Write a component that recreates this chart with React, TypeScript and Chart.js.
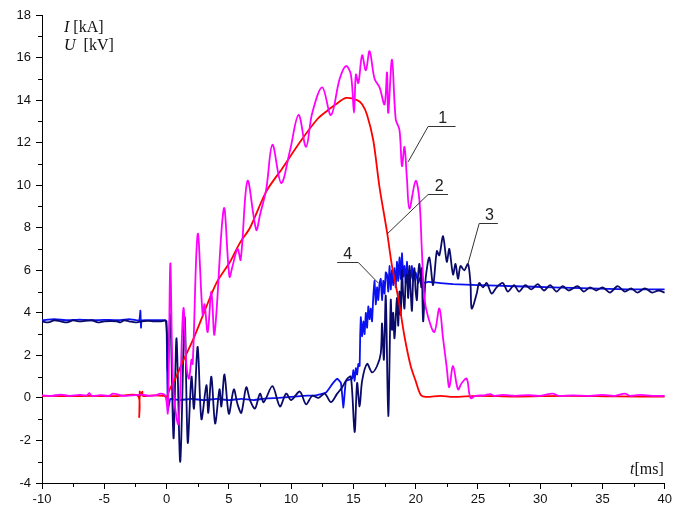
import React, { useEffect, useRef } from "react";
import { Chart, registerables } from "chart.js";

Chart.register(...registerables);

// ---- Data (t in ms) ----
// Curve 1: voltage (magenta)
const t1 = [-10, -9.2, -8.5, -7.8, -7, -6.4, -6.2, -6.0, -5.3, -4.6, -4.3, -3.5, -2.8, -2.0, -1.4, -0.8, -0.5, -0.1, 0.1, 0.3, 0.45, 0.6, 0.95, 1.35, 1.6, 1.8, 2.0, 2.1, 2.5, 2.9, 3.05, 3.3, 3.6, 3.85, 4.6, 5.05, 5.3, 5.7, 5.95, 6.5, 7.2, 7.5, 8.0, 8.5, 9.2, 9.9, 10.6, 11.2, 11.7, 12.5, 13.2, 13.9, 14.4, 14.8, 15.05, 15.2, 15.4, 15.7, 16.0, 16.3, 16.7, 17.1, 17.5, 17.7, 17.8, 18.1, 18.4, 18.7, 18.9, 19.1, 19.3, 19.5, 20.0, 20.3, 20.5, 20.7, 21.0, 21.5, 21.9, 22.2, 22.5, 22.7, 23.0, 23.4, 23.7, 24.1, 24.4, 24.8, 25.5, 26.0, 26.3, 27.0, 28.0, 29.0, 30.0, 31.0, 31.5, 32.5, 34.0, 35.0, 36.0, 36.8, 37.2, 38.0, 39.0, 40];
const u1 = [0.12, 0.1, 0.15, 0.1, 0.14, 0.12, 0.22, 0.1, 0.13, 0.1, 0.2, 0.1, 0.12, 0.15, 0.1, 0.13, 0.2, 0.1, -0.7, 6.3, 2.0, 0.0, -1.2, 4.2, 1.5, 0.9, 1.8, 1.6, 7.7, 3.9, 4.4, 3.1, 5.0, 3.0, 8.9, 5.7, 6.2, 7.0, 6.5, 10.2, 7.9, 8.6, 9.8, 11.9, 10.1, 11.6, 13.3, 11.8, 13.4, 14.6, 13.3, 15.0, 15.6, 15.2, 13.4, 15.2, 14.8, 16.1, 15.4, 16.3, 15.0, 14.6, 13.8, 15.3, 13.4, 15.9, 13.1, 12.6, 10.9, 11.8, 10.3, 8.9, 10.2, 9.3, 6.9, 4.7, 3.8, 3.1, 4.2, 2.8, 1.4, 0.5, 1.5, 0.4, 0.7, 0.9, 0.0, 0.1, 0.12, 0.18, 0.1, 0.14, 0.1, 0.13, 0.1, 0.2, 0.1, 0.12, 0.1, 0.14, 0.1, 0.2, 0.1, 0.14, 0.1, 0.1];

// Curve 2: current (red)
const t2 = [-10, -8, -6, -4, -2.3, -2.2, -2.15, -2.1, -1.95, -1.9, -1, -0.2, 0, 0.25, 0.7, 1.3, 2.1, 3.0, 4.0, 5.1, 5.9, 6.7, 8.0, 9.3, 10.8, 12.1, 12.9, 13.6, 14.4, 15.3, 15.7, 16.1, 16.6, 17.1, 17.7, 18.1, 18.6, 19.1, 19.6, 20.0, 20.4, 20.8, 22, 23, 25, 28, 32, 36, 40];
const i2 = [0.1, 0.08, 0.1, 0.08, 0.1, -0.9, 0.3, 0.1, 0.3, 0.1, 0.12, 0.1, 0.05, 0.4, 0.9, 1.7, 2.7, 4.0, 5.4, 6.4, 7.3, 8.0, 9.7, 10.8, 12.1, 13.1, 13.5, 13.8, 14.1, 14.0, 13.8, 13.3, 12.1, 9.9, 7.8, 6.2, 4.7, 2.9, 1.5, 0.8, 0.15, 0.05, 0.1, 0.05, 0.1, 0.06, 0.1, 0.07, 0.06];

// Curve 3: dark blue
const t3 = [-10, -9.5, -9, -8.5, -8, -7.5, -7, -6, -5.5, -5, -4, -3.7, -3.4, -3, -2.5, -2, -1.5, -1, -0.5, -0.05, 0.1, 0.3, 0.56, 0.8, 1.1, 1.45, 1.7, 2.0, 2.2, 2.5, 2.8, 3.2, 3.35, 3.6, 3.9, 4.25, 4.4, 4.65, 5.0, 5.4, 5.7, 6.0, 6.4, 6.7, 7.1, 7.5, 7.8, 8.5, 9.1, 9.6, 10.0, 10.7, 11.2, 11.7, 12.2, 12.7, 13.2, 13.7, 14.1, 14.5, 14.8, 15.1, 15.3, 15.5, 15.7, 16.1, 16.5, 16.9, 17.2, 17.3, 17.45, 17.6, 17.8, 18.0, 18.1, 18.2, 18.3, 18.5, 18.6, 18.7, 18.8, 18.9, 19.0, 19.1, 19.2, 19.3, 19.4, 19.5, 19.6, 19.7, 19.8, 19.9, 20.0, 20.1, 20.2, 20.3, 20.45, 20.5, 20.6, 20.8, 21.1, 21.4, 21.7, 21.9, 22.2, 22.5, 22.7, 23.0, 23.2, 23.4, 23.6, 23.9, 24.2, 24.4, 24.5, 24.9, 25.1, 25.4, 25.7, 26.1, 26.5, 27.0, 27.4, 27.9, 28.3, 28.8, 29.3, 29.8, 30.3, 30.8, 31.3, 31.8, 32.3, 33.0, 33.5, 34.0, 34.5, 35.0, 35.6, 36.2, 36.8, 37.3, 37.8, 38.4, 39.0, 39.5, 40];
const v3 = [3.6, 3.55, 3.65, 3.6, 3.55, 3.65, 3.6, 3.65, 3.55, 3.6, 3.6, 3.55, 3.65, 3.6, 3.55, 3.6, 3.62, 3.6, 3.6, 3.6, 1.3, 3.9, -1.9, 2.8, -3.0, 3.8, -2.1, 1.0, -0.5, 2.4, -1.0, 0.6, -0.7, 1.0, -1.2, 0.4, -0.4, 1.1, -0.75, 0.4, -0.3, -0.7, 0.5, -0.1, -0.5, 0.2, -0.2, 0.55, -0.4, 0.2, -0.1, 0.3, -0.3, 0.1, 0.0, 0.2, -0.2, 0.2, 0.5, 0.9, 1.0, -1.6, 0.7, -0.4, 0.8, 1.6, 1.2, 1.5, 2.1, 3.5, 1.8, 4.8, -0.85, 4.6, 3.2, 4.0, 2.8, 4.7, 3.4, 5.0, 3.9, 6.0, 4.8, 4.2, 5.5, 5.8, 4.7, 6.2, 5.0, 4.1, 5.6, 6.1, 5.0, 4.6, 5.8, 6.3, 5.2, 6.1, 3.6, 5.6, 6.6, 5.3, 6.9, 6.7, 7.6, 6.4, 7.0, 5.8, 6.3, 5.6, 6.2, 6.0, 6.3, 5.4, 4.2, 4.9, 5.4, 5.2, 5.4, 4.9, 5.2, 5.4, 5.0, 5.3, 5.0, 5.3, 5.1, 5.35, 5.05, 5.3, 5.0, 5.25, 5.05, 5.25, 5.0, 5.2, 5.05, 5.2, 4.95, 5.25, 5.0, 5.15, 4.95, 5.15, 4.95, 5.05, 4.95];

// Curve 4: blue
const t4 = [-10, -9, -8, -7, -6, -5, -4, -3, -2.2, -2.1, -2.05, -2.0, -1, -0.1, 0.0, 0.1, 0.3, 1, 2, 3, 4, 5, 6, 7, 8, 9, 10, 11, 12, 12.8, 13.3, 13.7, 14.0, 14.2, 14.4, 14.9, 15.0, 15.1, 15.2, 15.3, 15.4, 15.5, 15.55, 15.6, 15.7, 15.8, 15.9, 16.0, 16.1, 16.2, 16.3, 16.4, 16.5, 16.6, 16.7, 16.8, 16.9, 17.0, 17.1, 17.2, 17.3, 17.4, 17.5, 17.6, 17.7, 17.8, 17.9, 18.0, 18.1, 18.2, 18.3, 18.4, 18.5, 18.6, 18.7, 18.8, 18.9, 19.0, 19.1, 19.2, 19.3, 19.4, 19.5, 19.6, 19.7, 19.8, 20.0, 20.2, 20.4, 20.6, 21, 22, 23, 25, 28, 31, 34, 37, 40];
const v4 = [3.65, 3.7, 3.65, 3.68, 3.65, 3.67, 3.65, 3.7, 3.65, 4.1, 3.3, 3.65, 3.65, 3.65, 3.6, -0.6, -0.05, -0.1, -0.05, -0.1, -0.05, -0.1, -0.05, -0.1, -0.02, 0.0, 0.05, 0.1, 0.12, 0.25, 0.65, 0.9, 0.7, -0.45, 0.8, 0.9, 1.3, 0.8, 1.4, 1.1, 1.6, 1.5, 3.0, 3.8, 2.9, 3.6, 3.0, 4.0, 3.3, 4.3, 3.7, 4.2, 3.6, 4.8, 5.5, 4.4, 5.2, 4.6, 5.4, 5.6, 4.6, 5.5, 4.9, 5.9, 5.8, 5.0, 6.2, 5.1, 6.0, 5.3, 6.1, 5.2, 6.4, 5.5, 6.6, 5.6, 6.8, 5.7, 6.2, 5.4, 6.4, 5.5, 6.0, 5.6, 6.2, 5.5, 5.9, 5.4, 5.7, 5.4, 5.45, 5.4, 5.35, 5.3, 5.25, 5.2, 5.15, 5.1, 5.1];

// Axis ranges and ticks
const xMin = -10, xMax = 40, xStep = 5, xMinorStep = 2.5;
const yMin = -4, yMax = 18, yStep = 2, yMinorStep = 1;

// Curve labels (data coordinates): tip on curve, elbow, end of underline
const markNames = ["1", "2", "3", "4"];
const markTipX = [19.4, 17.7, 24.2, 17.0];
const markTipY = [11.1, 7.7, 6.3, 5.4];
const markElbowX = [21.0, 21.0, 25.1, 15.4];
const markElbowY = [12.8, 9.6, 8.2, 6.4];
const markEndX = [23.2, 22.6, 26.6, 13.7];

const zip = (xs: number[], ys: number[]) => xs.map((x, i) => ({ x, y: ys[i] }));

const overlay = {
  id: "overlay",
  afterDraw(chart: any) {
    const { ctx, chartArea, scales } = chart;
    const xs = scales.x, ys = scales.y;
    ctx.save();
    // minor ticks
    ctx.strokeStyle = "#000";
    ctx.lineWidth = 1;
    ctx.beginPath();
    for (let v = yMin; v <= yMax + 1e-9; v += yMinorStep) {
      if (Math.abs(v % yStep) < 1e-9) continue;
      const py = Math.round(ys.getPixelForValue(v)) + 0.5;
      ctx.moveTo(chartArea.left - 4, py);
      ctx.lineTo(chartArea.left, py);
    }
    for (let v = xMin; v <= xMax + 1e-9; v += xMinorStep) {
      if (Math.abs((v - xMin) % xStep) < 1e-9) continue;
      const px = Math.round(xs.getPixelForValue(v)) + 0.5;
      ctx.moveTo(px, chartArea.bottom);
      ctx.lineTo(px, chartArea.bottom + 4);
    }
    ctx.stroke();

    // curve labels with leader lines
    ctx.strokeStyle = "#333";
    ctx.lineWidth = 1;
    ctx.fillStyle = "#222";
    ctx.font = "16px 'Liberation Sans', Arial, sans-serif";
    ctx.textAlign = "center";
    ctx.textBaseline = "alphabetic";
    markNames.forEach((name, i) => {
      const tx = xs.getPixelForValue(markTipX[i]);
      const ty = ys.getPixelForValue(markTipY[i]);
      const ex = xs.getPixelForValue(markElbowX[i]);
      const ey = Math.round(ys.getPixelForValue(markElbowY[i])) + 0.5;
      const fx = xs.getPixelForValue(markEndX[i]);
      ctx.beginPath();
      ctx.moveTo(tx, ty);
      ctx.lineTo(ex, ey);
      ctx.lineTo(fx, ey);
      ctx.stroke();
      ctx.fillText(name, (ex + fx) / 2 + (fx > ex ? 1 : 0), ey - 4);
    });

    // axis titles
    const serif = "'Liberation Serif', 'Times New Roman', serif";
    const drawMixed = (x: number, y: number, it: string, rest: string, align: string) => {
      ctx.textAlign = "left";
      ctx.textBaseline = "middle";
      ctx.font = `italic 16px ${serif}`;
      const w1 = ctx.measureText(it).width;
      ctx.font = `16px ${serif}`;
      const w2 = ctx.measureText(rest).width;
      let sx = x;
      if (align === "right") sx = x - w1 - w2;
      ctx.font = `italic 16px ${serif}`;
      ctx.fillText(it, sx, y);
      ctx.font = `16px ${serif}`;
      ctx.fillText(rest, sx + w1, y);
    };
    ctx.fillStyle = "#111";
    drawMixed(chartArea.left + 22, chartArea.top + 13, "I", " [kA]", "left");
    drawMixed(chartArea.left + 22, chartArea.top + 31, "U", "  [kV]", "left");
    drawMixed(chartArea.right - 1, chartArea.bottom - 13, "t", "[ms]", "right");
    ctx.restore();
  },
};

export default function App() {
  const ref = useRef<HTMLCanvasElement | null>(null);
  useEffect(() => {
    if (!ref.current) return;
    const chart = new Chart(ref.current, {
      type: "line",
      data: {
        datasets: [
          { label: "1", data: zip(t1, u1), borderColor: "#ff00ff", borderWidth: 1.8, tension: 0.35, pointRadius: 0 },
          { label: "2", data: zip(t2, i2), borderColor: "#ff0000", borderWidth: 1.8, tension: 0.3, pointRadius: 0 },
          { label: "3", data: zip(t3, v3), borderColor: "#0a0a6a", borderWidth: 1.8, tension: 0.3, pointRadius: 0 },
          { label: "4", data: zip(t4, v4), borderColor: "#0a10f0", borderWidth: 1.8, tension: 0.1, pointRadius: 0 },
        ],
      },
      options: {
        animation: false,
        responsive: false,
        devicePixelRatio: 1,
        parsing: false as any,
        layout: { padding: { top: 15, right: 10, left: 0, bottom: 0 } },
        plugins: { legend: { display: false }, tooltip: { enabled: false } },
        scales: {
          x: {
            type: "linear",
            min: xMin,
            max: xMax,
            afterFit: (s: any) => { s.height = 32; },
            ticks: {
              stepSize: xStep,
              color: "#111",
              padding: 3,
              font: { family: "'Liberation Sans', Arial, sans-serif", size: 13 },
              callback: (v: any) => String(v),
              maxRotation: 0,
            },
            grid: { display: true, drawOnChartArea: false, drawTicks: true, tickLength: 6, color: "#000" },
            border: { display: true, color: "#000", width: 1 },
          },
          y: {
            type: "linear",
            min: yMin,
            max: yMax,
            afterFit: (s: any) => { s.width = 42; },
            ticks: {
              stepSize: yStep,
              color: "#111",
              padding: 5,
              font: { family: "'Liberation Sans', Arial, sans-serif", size: 13 },
              callback: (v: any) => String(v),
            },
            grid: { display: true, drawOnChartArea: false, drawTicks: true, tickLength: 6, color: "#000" },
            border: { display: true, color: "#000", width: 1 },
          },
        },
      },
      plugins: [overlay],
    });
    return () => chart.destroy();
  }, []);
  return (
    <div style={{ position: "absolute", left: 0, top: 0, width: 675, height: 515, background: "#fff" }}>
      <canvas ref={ref} width={675} height={515} />
    </div>
  );
}
